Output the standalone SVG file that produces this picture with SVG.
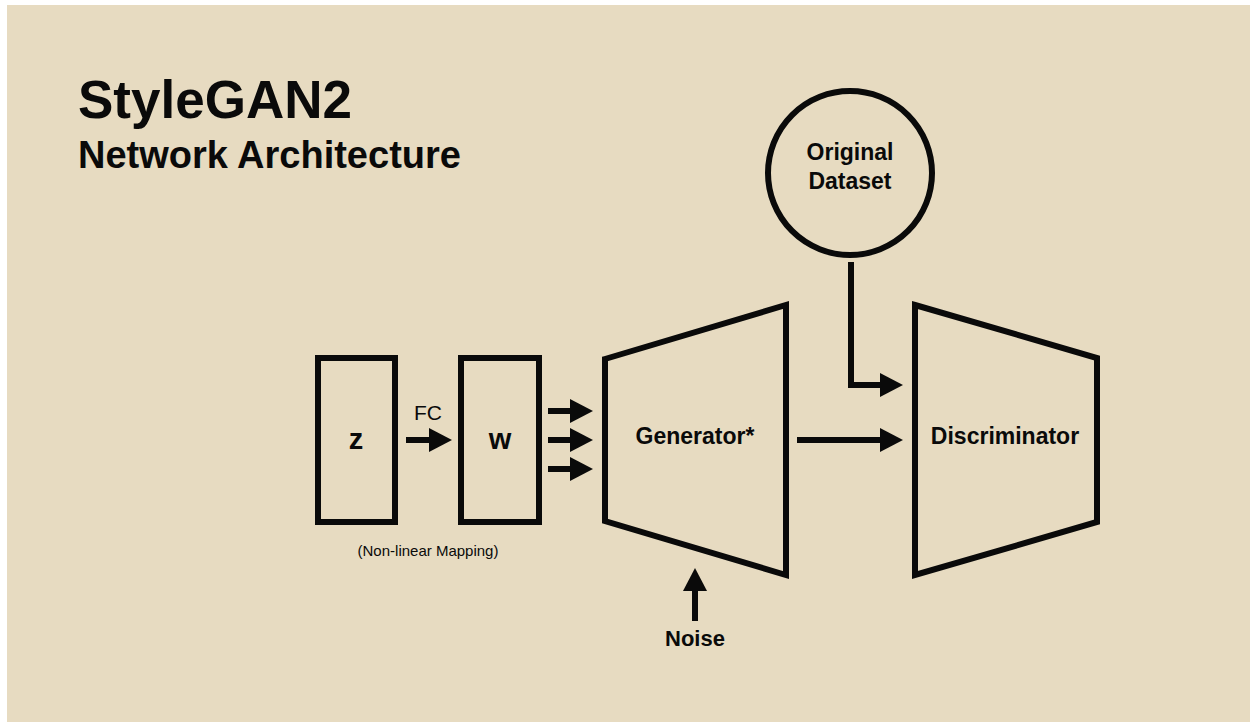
<svg xmlns="http://www.w3.org/2000/svg" width="1253" height="722" viewBox="0 0 1253 722">
  <style>
    .bg { fill: #E7DBC1; }
    .shape { fill: none; stroke: #0a0a0a; stroke-width: 6; stroke-linejoin: miter; }
    .conn { fill: none; stroke: #0a0a0a; stroke-width: 6; }
    .b { font-family: "Liberation Sans", Arial, sans-serif; font-weight: bold; fill: #0a0a0a; text-anchor: middle; }
    .r { font-family: "Liberation Sans", Arial, sans-serif; fill: #0a0a0a; text-anchor: middle; }
    .title { font-family: "Liberation Sans", Arial, sans-serif; font-weight: bold; fill: #0a0a0a; }
  </style>
  <defs>
    <marker id="head" markerUnits="userSpaceOnUse" markerWidth="23" markerHeight="24" refX="0" refY="12" orient="auto">
      <path d="M0,0 L23,12 L0,24 Z" fill="#0a0a0a"/>
    </marker>
  </defs>
  <rect x="0" y="0" width="1253" height="722" fill="#ffffff"/>
  <rect class="bg" x="7" y="5" width="1243" height="717"/>

  <g id="title">
    <text class="title" x="78" y="118" font-size="53">StyleGAN2</text>
    <text class="title" x="78" y="168" font-size="38">Network Architecture</text>
  </g>

  <g id="node-z">
    <rect class="shape" x="318" y="358" width="77" height="164"/>
    <text class="b" x="356" y="449" font-size="29">z</text>
  </g>

  <g id="node-w">
    <rect class="shape" x="461" y="358" width="78" height="164"/>
    <text class="b" x="500" y="449" font-size="29">w</text>
  </g>

  <g id="label-mapping">
    <text class="r" x="428" y="556" font-size="15">(Non-linear Mapping)</text>
  </g>

  <g id="node-generator">
    <path class="shape" d="M605,359 L786,305 L786,575 L605,521 Z"/>
    <text class="b" x="695" y="444" font-size="23">Generator*</text>
  </g>

  <g id="node-discriminator">
    <path class="shape" d="M915,305 L1097,358 L1097,522 L915,575 Z"/>
    <text class="b" x="1005" y="444" font-size="23">Discriminator</text>
  </g>

  <g id="node-dataset">
    <circle class="shape" cx="850" cy="173" r="82"/>
    <text class="b" x="850" y="160" font-size="23">Original</text>
    <text class="b" x="850" y="189" font-size="23">Dataset</text>
  </g>

  <g id="node-noise">
    <text class="b" x="695" y="646" font-size="22">Noise</text>
  </g>

  <g id="connectors">
    <text class="r" x="428" y="420" font-size="21">FC</text>
    <line class="conn" x1="406" y1="440" x2="429" y2="440" marker-end="url(#head)"/>
    <line class="conn" x1="548" y1="411" x2="570" y2="411" marker-end="url(#head)"/>
    <line class="conn" x1="548" y1="440" x2="570" y2="440" marker-end="url(#head)"/>
    <line class="conn" x1="548" y1="469" x2="570" y2="469" marker-end="url(#head)"/>
    <line class="conn" x1="797" y1="440" x2="880" y2="440" marker-end="url(#head)"/>
    <path class="conn" d="M851,262 V385 H880" stroke-linejoin="miter" marker-end="url(#head)"/>
    <line class="conn" x1="695" y1="621" x2="695" y2="591" marker-end="url(#head)"/>
  </g>
</svg>
